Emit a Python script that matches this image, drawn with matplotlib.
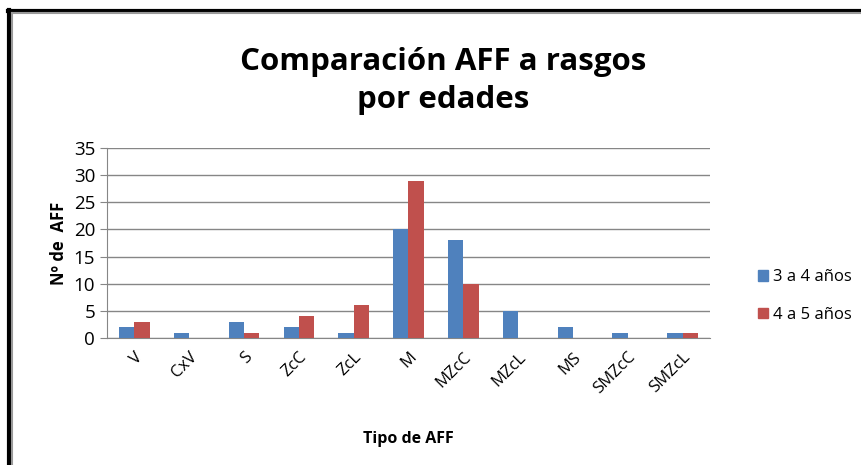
import numpy as np
import matplotlib.pyplot as plt
from matplotlib.patches import Rectangle
from matplotlib.lines import Line2D

categorias = ['V', 'CxV', 'S', 'ZcC', 'ZcL', 'M', 'MZcC', 'MZcL', 'MS', 'SMZcC', 'SMZcL']
serie_3a4 = [2, 1, 3, 2, 1, 20, 18, 5, 2, 1, 1]
serie_4a5 = [3, 0, 1, 4, 6, 29, 10, 0, 0, 0, 1]
etiquetas = ['3 a 4 años', '4 a 5 años']

plt.rcParams['font.family'] = ['Open Sans', 'DejaVu Sans']

fig = plt.figure(figsize=(8.62, 4.65), dpi=100)
ax = fig.add_axes([107/862, 1 - 338/465, (710-107)/862, (338-148)/465])

x = np.arange(len(categorias))
w = 0.28
ax.bar(x - w/2, serie_3a4, w, color='#4F81BD', label=etiquetas[0], zorder=3)
ax.bar(x + w/2, serie_4a5, w, color='#C0504D', label=etiquetas[1], zorder=3)

ax.set_xlim(-0.5, len(categorias) - 0.5)
ax.set_ylim(0, 35)
ax.set_yticks(range(0, 36, 5))
ax.yaxis.grid(True, color='#868686', linewidth=1, zorder=0)
for s in ['top', 'right']:
    ax.spines[s].set_visible(False)
ax.spines['left'].set_color('#868686')
ax.spines['bottom'].set_color('#868686')
ax.tick_params(axis='y', colors='#868686', labelcolor='black', labelsize=13.5, length=5, direction='out')
ax.tick_params(axis='x', length=0, labelsize=12, pad=8)
ax.set_xticks(x)
ax.set_xticklabels(categorias, rotation=45, ha='right', rotation_mode='anchor')

ax.set_xlabel('Tipo de AFF', fontsize=11.5, fontweight='bold', labelpad=24)
ax.set_ylabel('Nº de  AFF', fontsize=12, fontweight='bold', labelpad=4)

fig.text(0.514, 0.826, 'Comparación AFF a rasgos\npor edades', ha='center', va='center',
         fontsize=22.5, fontweight='bold', linespacing=1.35)

handles = [Rectangle((0, 0), 1, 1, color='#4F81BD'), Rectangle((0, 0), 1, 1, color='#C0504D')]
fig.legend(handles, etiquetas, loc='center left', bbox_to_anchor=(743/862, 1 - 296/465),
           frameon=False, fontsize=12, handlelength=0.6, handleheight=0.6,
           handletextpad=0.3, labelspacing=1.3)

# borde de la imagen
fig.add_artist(Line2D([9.5/862, 9.5/862], [0, 1 - 10/465], color='black', linewidth=3, transform=fig.transFigure))
fig.add_artist(Line2D([8/862, 1], [1 - 11.5/465, 1 - 11.5/465], color='black', linewidth=3, transform=fig.transFigure))
fig.add_artist(Line2D([12/862, 12/862], [0, 1 - 13/465], color='#999999', linewidth=1.5, transform=fig.transFigure))
fig.add_artist(Line2D([12/862, 1], [1 - 13.5/465, 1 - 13.5/465], color='#999999', linewidth=1.5, transform=fig.transFigure))

plt.savefig('out.png', dpi=100)
